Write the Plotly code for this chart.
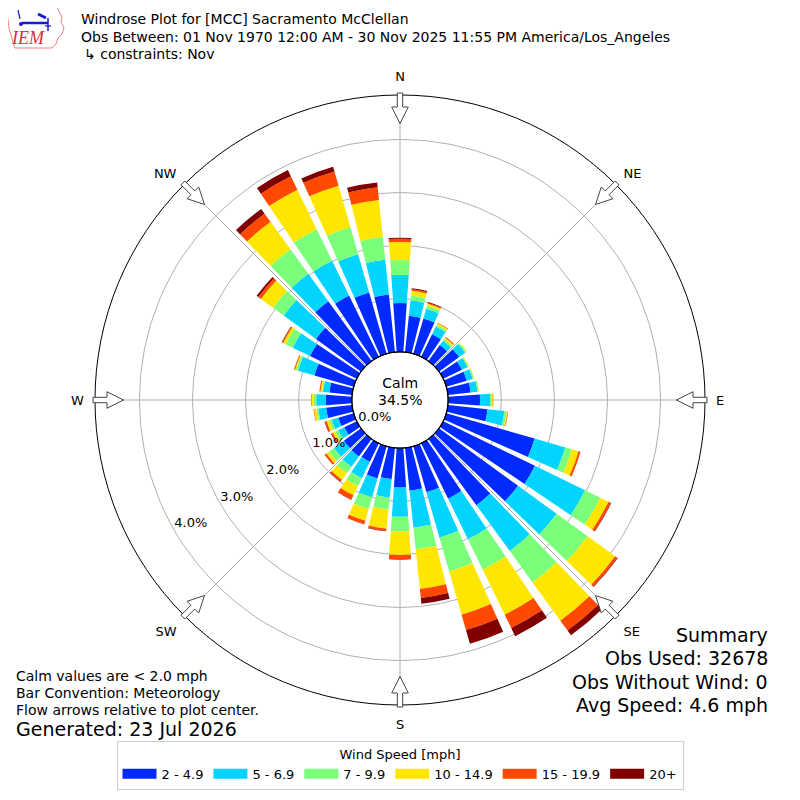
import math
import plotly.graph_objects as go

# ---------------- data ----------------
directions = list(range(0, 360, 10))
speed_bins = ["2 - 4.9", "5 - 6.9", "7 - 9.9", "10 - 14.9", "15 - 19.9", "20+"]
bin_colors = ["#002aff", "#00d4ff", "#7bff7b", "#ffe600", "#ff4800", "#800000"]

# percent of observations per direction (0..350 step 10) for each speed bin
pct_2_49 = [0.92, 0.69, 0.69, 0.47, 0.37, 0.47, 0.39, 0.40, 0.43, 0.60, 0.75, 1.73,
            1.92, 1.84, 1.54, 1.16, 0.90, 0.81, 0.74, 0.59, 0.63, 0.39, 0.41, 0.40,
            0.26, 0.30, 0.49, 0.49, 0.43, 0.77, 0.98, 1.05, 1.39, 1.28, 1.20, 1.09]
pct_5_69 = [0.53, 0.29, 0.19, 0.16, 0.10, 0.14, 0.12, 0.12, 0.13, 0.19, 0.32, 0.60,
            1.05, 0.90, 1.07, 0.85, 0.89, 0.70, 0.55, 0.35, 0.37, 0.34, 0.24, 0.23,
            0.13, 0.13, 0.15, 0.18, 0.12, 0.32, 0.36, 0.75, 0.64, 0.73, 0.75, 0.66]
pct_7_99 = [0.28, 0.09, 0.06, 0.04, 0.04, 0.03, 0.02, 0.02, 0.02, 0.03, 0.04, 0.13,
            0.32, 0.72, 0.73, 0.64, 0.66, 0.41, 0.28, 0.23, 0.23, 0.17, 0.15, 0.12,
            0.06, 0.05, 0.04, 0.05, 0.02, 0.04, 0.15, 0.25, 0.57, 0.66, 0.53, 0.43]
pct_10_149 = [0.34, 0.09, 0.04, 0.03, 0.03, 0.01, 0.01, 0.01, 0.01, 0.02, 0.02, 0.13,
              0.17, 0.64, 0.89, 0.94, 0.85, 0.75, 0.44, 0.36, 0.23, 0.19, 0.15, 0.06,
              0.05, 0.05, 0.04, 0.04, 0.03, 0.02, 0.05, 0.28, 0.64, 0.83, 0.81, 0.70]
pct_15_199 = [0.06, 0.03, 0.02, 0.01, 0.02, 0.00, 0.00, 0.00, 0.00, 0.01, 0.01, 0.04,
              0.05, 0.05, 0.23, 0.28, 0.30, 0.17, 0.08, 0.04, 0.07, 0.09, 0.04, 0.04,
              0.03, 0.03, 0.01, 0.01, 0.02, 0.02, 0.02, 0.06, 0.19, 0.28, 0.28, 0.24]
pct_20p = [0.02, 0.02, 0.01, 0.00, 0.00, 0.00, 0.00, 0.00, 0.00, 0.00, 0.00, 0.00,
           0.01, 0.01, 0.11, 0.17, 0.27, 0.11, 0.01, 0.01, 0.00, 0.01, 0.01, 0.00,
           0.01, 0.01, 0.00, 0.00, 0.00, 0.00, 0.01, 0.04, 0.11, 0.13, 0.09, 0.09]
bin_values = [pct_2_49, pct_5_69, pct_7_99, pct_10_149, pct_15_199, pct_20p]

calm_pct = 34.5
ring_values = [0, 1, 2, 3, 4]
ring_labels = ["0.0%", "1.0%", "2.0%", "3.0%", "4.0%"]
compass_angles = [0, 45, 90, 135, 180, 225, 270, 315]
compass_labels = ["N", "NE", "E", "SE", "S", "SW", "W", "NW"]

title_lines = ["Windrose Plot for [MCC] Sacramento McClellan",
               "Obs Between: 01 Nov 1970 12:00 AM - 30 Nov 2025 11:55 PM America/Los_Angeles",
               "\u21b3 constraints: Nov"]
notes_lines = ["Calm values are < 2.0 mph", "Bar Convention: Meteorology",
               "Flow arrows relative to plot center."]
generated = "Generated: 23 Jul 2026"
summary_lines = ["Summary", "Obs Used: 32678", "Obs Without Wind: 0", "Avg Speed: 4.6 mph"]

# ---------------- figure ----------------
W = H = 800
OFF = 8            # page margin of the html body
FONT = "DejaVu Sans"


def PX(x):
    return (x - OFF) / W


def PY(y):
    return 1 - (y - OFF) / H


CX, CY = PX(400), PY(400)          # polar centre in paper units
R_OUT = 305 / W                     # outer radius in paper units
dom_x = [CX - R_OUT, CX + R_OUT]
dom_y = [CY - R_OUT, CY + R_OUT]
hole = 0.158
rmax = 4.836

fig = go.Figure()
for name, col, vals in zip(speed_bins, bin_colors, bin_values):
    fig.add_trace(go.Barpolar(r=vals, theta=directions, width=8, name=name,
                              marker=dict(color=col, line=dict(width=0)),
                              showlegend=False, hoverinfo="skip"))
# legend-only entries (wide swatches)
for name, col in zip(speed_bins, bin_colors):
    fig.add_trace(go.Scatterpolar(r=[None], theta=[None], mode="lines", name=name,
                                  line=dict(color=col, width=10), hoverinfo="skip"))
# radial ring labels
fig.add_trace(go.Scatterpolar(r=ring_values, theta=[240] * len(ring_values), mode="text",
                              text=ring_labels, textposition="top right",
                              textfont=dict(family=FONT, size=13, color="black"),
                              showlegend=False, hoverinfo="skip"))

fig.update_layout(
    width=W, height=H, margin=dict(l=0, r=0, t=0, b=0),
    paper_bgcolor="white", plot_bgcolor="white",
    font=dict(family=FONT, size=13, color="black"),
    polar=dict(
        domain=dict(x=dom_x, y=dom_y), hole=hole, bgcolor="white", barmode="stack",
        radialaxis=dict(range=[0, rmax], tickvals=[1, 2, 3, 4], showticklabels=False,
                        ticks="", showline=False, gridcolor="#b0b0b0", gridwidth=1,
                        layer="above traces"),
        angularaxis=dict(rotation=90, direction="clockwise", tickvals=compass_angles,
                         ticktext=compass_labels, showline=True, linecolor="black",
                         linewidth=1, gridcolor="#b0b0b0", gridwidth=1,
                         ticks="outside", ticklen=8, tickcolor="rgba(0,0,0,0)",
                         tickfont=dict(family=FONT, size=13), layer="above traces"),
    ),
    legend=dict(orientation="h", x=PX(400), xanchor="center", y=PY(741), yanchor="top",
                bordercolor="#cccccc", borderwidth=1, bgcolor="white", itemwidth=34,
                font=dict(family=FONT, size=13),
                title=dict(text="Wind Speed [mph]", side="top center",
                           font=dict(family=FONT, size=13))),
)

shapes = []
# calm circle
rc = hole * R_OUT
shapes.append(dict(type="circle", xref="paper", yref="paper", x0=CX - rc, x1=CX + rc,
                   y0=CY - rc, y1=CY + rc, line=dict(color="black", width=1.2),
                   fillcolor="rgba(0,0,0,0)"))
# flow arrows at the compass points
r_tail, r_base, r_tip = 307 / W, 293 / W, 276.5 / W
hw_s, hw_h = 2.7 / W, 8.3 / W
for a in compass_angles:
    t = math.radians(a)
    ux, uy = math.sin(t), math.cos(t)          # radial (paper y up)
    vx, vy = math.cos(t), -math.sin(t)         # perpendicular
    pts = [(r_tail, -hw_s), (r_base, -hw_s), (r_base, -hw_h), (r_tip, 0),
           (r_base, hw_h), (r_base, hw_s), (r_tail, hw_s)]
    path = ""
    for i, (rr, ww) in enumerate(pts):
        x = CX + rr * ux + ww * vx
        y = CY + rr * uy + ww * vy
        path += ("M" if i == 0 else "L") + f"{x:.5f},{y:.5f}"
    path += "Z"
    shapes.append(dict(type="path", xref="paper", yref="paper", path=path,
                       fillcolor="white", line=dict(color="#444444", width=1)))


# IEM logo (simple drawing)
def P(x, y):
    return f"{PX(x):.5f},{PY(y):.5f}"


iowa = [(8, 7), (57, 7), (59, 12), (62, 17), (61, 22), (64, 28), (62, 34), (58, 38),
        (56, 44), (52, 48), (15, 48), (13, 42), (11, 35), (9, 28), (8, 20), (7, 12)]
shapes.append(dict(type="path", xref="paper", yref="paper",
                   path="M" + "L".join(P(x, y) for x, y in iowa) + "Z",
                   line=dict(color="#f08080", width=1), fillcolor="rgba(0,0,0,0)"))
for (x0, y0, x1, y1, w) in [(22, 23, 48, 23, 2.5), (48, 18, 48, 31, 1.5),
                            (38, 14, 46, 18, 3), (18, 10, 20, 19, 1.2), (45, 26, 51, 26, 1.2)]:
    shapes.append(dict(type="line", xref="paper", yref="paper", x0=PX(x0), y0=PY(y0),
                       x1=PX(x1), y1=PY(y1), line=dict(color="#1a1ad0", width=w)))
shapes.append(dict(type="circle", xref="paper", yref="paper", x0=PX(19), x1=PX(23),
                   y0=PY(26), y1=PY(22), fillcolor="#1a1ad0", line=dict(width=0)))

annotations = []
annotations.append(dict(text="<i>IEM</i>", x=PX(28), y=PY(38), xref="paper", yref="paper",
                        xanchor="center", yanchor="middle", showarrow=False,
                        font=dict(family="Liberation Serif", size=18, color="#d83030")))
for i, line in enumerate(title_lines):
    annotations.append(dict(text=line, x=PX(79 if i < 2 else 82), y=PY(19 + 17.7 * i),
                            xref="paper", yref="paper", xanchor="left", yanchor="middle",
                            showarrow=False, font=dict(family=FONT, size=14)))
# calm label: 14px glyphs with a tighter line spacing
calm_text = ("<span style='font-size:14px'>Calm</span><br>"
             f"<span style='font-size:14px'>{calm_pct:.1f}%</span>")
annotations.append(dict(text=calm_text, x=CX, y=PY(391), xref="paper", yref="paper",
                        xanchor="center", yanchor="middle", showarrow=False, borderpad=0,
                        font=dict(family=FONT, size=12.7)))
for i, line in enumerate(notes_lines):
    annotations.append(dict(text=line, x=PX(14), y=PY(676 + 17 * i), xref="paper",
                            yref="paper", xanchor="left", yanchor="middle", showarrow=False,
                            font=dict(family=FONT, size=14)))
annotations.append(dict(text=generated, x=PX(14), y=PY(729), xref="paper", yref="paper",
                        xanchor="left", yanchor="middle", showarrow=False,
                        font=dict(family=FONT, size=19)))
for i, line in enumerate(summary_lines):
    annotations.append(dict(text=line, x=PX(770), y=PY(635 + 23.3 * i), xref="paper",
                            yref="paper", xanchor="right", yanchor="middle", showarrow=False,
                            font=dict(family=FONT, size=19)))

fig.update_layout(shapes=shapes, annotations=annotations)
fig.write_html("out.html")
